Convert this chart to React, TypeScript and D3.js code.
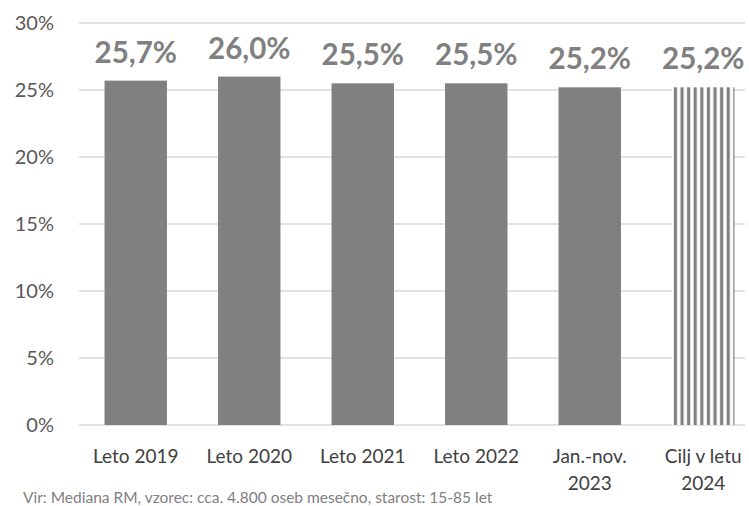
import React from "react";
import * as d3 from "d3";

const categories: string[][] = [
  ["Leto 2019"],
  ["Leto 2020"],
  ["Leto 2021"],
  ["Leto 2022"],
  ["Jan.-nov.", "2023"],
  ["Cilj v letu", "2024"],
];
const values: number[] = [25.7, 26.0, 25.5, 25.5, 25.2, 25.2];
const valueLabels: string[] = ["25,7%", "26,0%", "25,5%", "25,5%", "25,2%", "25,2%"];
const striped: boolean[] = [false, false, false, false, false, true];
const yTicks: number[] = [0, 5, 10, 15, 20, 25, 30];
const footnote = "Vir: Mediana RM, vzorec: cca. 4.800 oseb mesečno, starost: 15-85 let";

const W = 749;
const H = 506;
const FONT = "Lato, 'Open Sans', sans-serif";

export default function App() {
  const x = d3
    .scaleBand<number>()
    .domain(d3.range(categories.length))
    .range([79, 760])
    .paddingInner(0.45)
    .paddingOuter(0.225);
  const y = d3.scaleLinear().domain([0, 30]).range([425, 23]);

  return (
    <svg
      width={W}
      height={H}
      style={{ position: "absolute", left: 0, top: 0, background: "#fff" }}
      fontFamily={FONT}
    >
      <defs>
        <pattern id="stripes" width={6.6} height={10} patternUnits="userSpaceOnUse" x={x(5)! + 1}>
          <rect x={0} y={0} width={6.6} height={10} fill="#ffffff" />
          <rect x={0.8} y={0} width={3.2} height={10} fill="#808080" />
        </pattern>
      </defs>
      {yTicks.map((t) => (
        <g key={t}>
          <line x1={79} x2={745} y1={y(t)} y2={y(t)} stroke="#d9d9d9" strokeWidth={1.5} />
          <text
            x={54}
            y={y(t)}
            dy="0.35em"
            textAnchor="end"
            fontSize={20}
            fill="#595959"
          >
            {t}%
          </text>
        </g>
      ))}
      {values.map((v, i) => (
        <g key={i}>
          <rect
            x={x(i)}
            y={y(v)}
            width={x.bandwidth()}
            height={y(0) - y(v)}
            fill={striped[i] ? "url(#stripes)" : "#808080"}
          />
          <text
            x={x(i)! + x.bandwidth() / 2}
            y={y(v) - 18}
            textAnchor="middle"
            fontSize={29.5}
            fontWeight="bold"
            fill="#808080"
          >
            {valueLabels[i]}
          </text>
          {categories[i].map((line, j) => (
            <text
              key={j}
              x={x(i)! + x.bandwidth() / 2}
              y={463 + j * 27}
              textAnchor="middle"
              fontSize={19}
              fill="#404040"
            >
              {line}
            </text>
          ))}
        </g>
      ))}
      <text x={23} y={503} fontSize={15.5} fill="#808080">
        {footnote}
      </text>
    </svg>
  );
}
